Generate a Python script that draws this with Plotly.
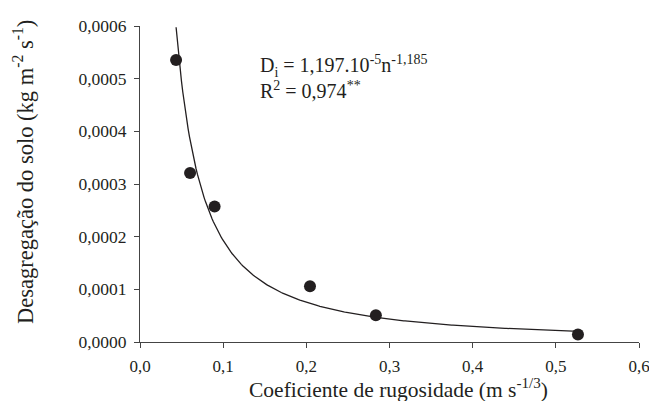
import numpy as np
import plotly.graph_objects as go

rugosidade = [0.0434, 0.0602, 0.0897, 0.2044, 0.2836, 0.5266]
desagregacao = [0.0005355, 0.0003208, 0.0002574, 0.0001058, 0.0000508, 0.0000142]

# Fitted power curve as drawn (D = a * n^b)
fit_a = 8.49e-6
fit_b = -1.356
curve_x = np.linspace(0.0434, 0.522, 300)
curve_y = fit_a * curve_x ** fit_b

x_ticks = [0.0, 0.1, 0.2, 0.3, 0.4, 0.5, 0.6]
y_ticks = [0.0, 0.0001, 0.0002, 0.0003, 0.0004, 0.0005, 0.0006]

ink = "#231f20"
font = "Liberation Serif"

fig = go.Figure()
fig.add_trace(go.Scatter(x=curve_x, y=curve_y, mode="lines",
                         line=dict(color=ink, width=1.3), showlegend=False,
                         hoverinfo="skip"))
fig.add_trace(go.Scatter(x=rugosidade, y=desagregacao, mode="markers",
                         marker=dict(color=ink, size=12), showlegend=False,
                         cliponaxis=False))

fig.add_annotation(x=0.142, y=0.000555, xref="x", yref="y", xanchor="left", yanchor="top",
                   showarrow=False, align="left",
                   text="D<sub>i</sub> = 1,197.10<sup>-5</sup>n<sup>-1,185</sup><br>R<sup>2</sup> = 0,974<sup>**</sup>",
                   font=dict(family=font, size=20, color=ink))

# Axis titles
fig.add_annotation(x=0.519, y=-0.147, xref="paper", yref="paper", xanchor="center", yanchor="middle",
                   showarrow=False,
                   text="Coeficiente de rugosidade (m s<sup>-1/3</sup>)",
                   font=dict(family=font, size=21.5, color=ink))
fig.add_annotation(x=-0.233, y=0.537, xref="paper", yref="paper", xanchor="center", yanchor="middle",
                   showarrow=False, textangle=-90,
                   text="Desagregação do solo (kg m<sup>-2</sup> s<sup>-1</sup>)",
                   font=dict(family=font, size=22.5, color=ink))

# The page body adds an 8px offset; the figure is sized to fill the rest of the window
fig.update_layout(
    width=649, height=393,
    margin=dict(l=131.5, r=17.5, t=18, b=58.5),
    paper_bgcolor="white", plot_bgcolor="white",
    separators=",.",
    font=dict(family=font, color=ink),
)
fig.update_xaxes(
    range=[0, 0.6], tickvals=x_ticks, tickformat=".1f", automargin=False,
    ticks="outside", ticklen=5, tickcolor="#444", tickwidth=1, ticklabelstandoff=4,
    showline=True, linecolor="#444", linewidth=1, showgrid=False, zeroline=False,
    tickfont=dict(family=font, size=17, color=ink),
)
fig.update_yaxes(
    range=[0, 0.0006], tickvals=y_ticks, tickformat=".4f", automargin=False,
    ticks="outside", ticklen=5, tickcolor="#444", tickwidth=1, ticklabelstandoff=4,
    showline=True, linecolor="#444", linewidth=1, showgrid=False, zeroline=False,
    tickfont=dict(family=font, size=17.5, color=ink),
)

fig.write_html("out.html")
